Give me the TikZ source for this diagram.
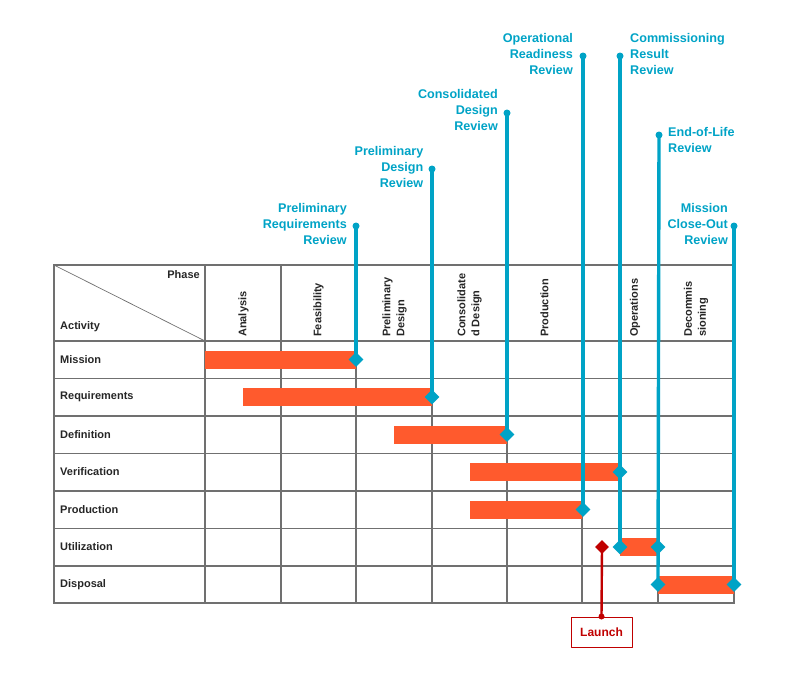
\documentclass[tikz,border=0pt]{standalone}
\usepackage{fontspec}
\setmainfont{Liberation Sans}
\usetikzlibrary{shapes.geometric}
\definecolor{barorange}{HTML}{FF5A2D}
\definecolor{revblue}{HTML}{00A3C6}
\definecolor{launchred}{HTML}{C00000}
\definecolor{gridgray}{HTML}{707070}
\begin{document}
\begin{tikzpicture}[x=1pt, y=-1pt, font=\bfseries\fontsize{11}{12}\selectfont, line join=round, line cap=round,
	grid/.style={draw=gridgray, line width=1.1pt, line cap=rect},
	bar/.style={fill=barorange},
	gate/.style={diamond, fill=revblue, minimum size=15pt, inner sep=0pt},
	dot/.style={circle, fill=revblue, minimum size=7pt, inner sep=0pt},
	stem/.style={draw=revblue, line width=3.4pt},
	review/.style={text=revblue, font=\bfseries\fontsize{12.6}{16}\selectfont, inner sep=0pt},
	rowlab/.style={anchor=west, text=black!85, inner sep=0pt},
	phaselab/.style={rotate=90, anchor=west, align=left, text=black!85, inner sep=0pt, font=\bfseries\fontsize{11}{14}\selectfont}]
	\useasboundingbox (0,0) rectangle (789,672);
	% table
	\def\xl{54}\def\xr{734}\def\yt{265}\def\yb{603}
	\foreach \x in {54,205,281,356,432,507,582,658,734} \draw[grid] (\x,\yt)--(\x,\yb);
	\foreach \y in {265,341,378.5,416,453.5,491,528.5,566,603} \draw[grid] (\xl,\y)--(\xr,\y);
	\draw[draw=gridgray, line width=0.7pt] (\xl,\yt)--(205,341);
	\node[anchor=east, text=black!85, inner sep=0pt] (phase) at (200,275) {Phase};
	\node[rowlab] (activity) at (60,327) {Activity};
	\foreach \name [count=\i] in {Mission,Requirements,Definition,Verification,Production,Utilization,Disposal}
		\node[rowlab] (row\i) at (60,{341+37.43*(\i-0.5)}) {\name};
	% phases
	\node[phaselab] (ph1) at (243.5,337) {Analysis};
	\node[phaselab] (ph2) at (318.5,337) {Feasibility};
	\node[phaselab] (ph3) at (394.5,337) {Preliminary\\Design};
	\node[phaselab] (ph4) at (469.5,337) {Consolidate\\d Design};
	\node[phaselab] (ph5) at (544.5,337) {Production};
	\node[phaselab] (ph6) at (635,337) {Operations};
	\node[phaselab] (ph7) at (696,337) {Decommis\\sioning};
	% bars
	\fill[bar] (205,350.5) rectangle (356,368.5);
	\fill[bar] (243,388) rectangle (432,406);
	\fill[bar] (394,425.5) rectangle (507,443.5);
	\fill[bar] (470,463) rectangle (620,481);
	\fill[bar] (470,500.5) rectangle (582,518.5);
	\fill[bar] (620,538) rectangle (658,556);
	\fill[bar] (658,575.5) rectangle (734,593.5);
	% gates
	\node[gate] (g1) at (356,359.5) {};
	\node[gate] (g2) at (432,397) {};
	\node[gate] (g3) at (507,434.5) {};
	\node[gate] (g4) at (620,472) {};
	\node[gate] (g5) at (583,509.5) {};
	\node[gate] (g6) at (620,547) {};
	\node[gate] (g7) at (658,547) {};
	\node[gate] (g8) at (658,584.5) {};
	\node[gate] (g9) at (734,584.5) {};
	% reviews
	\node[dot] (prr) at (356,226) {};
	\node[dot] (pdr) at (432,169) {};
	\node[dot] (cdr) at (507,113) {};
	\node[dot] (orr) at (583,56) {};
	\node[dot] (crr) at (620,56) {};
	\node[dot] (eol) at (659,135) {};
	\node[dot] (mcor) at (734,226) {};
	\node[review, anchor=east, align=right] at (347,224) {Preliminary\\Requirements\\Review};
	\node[review, anchor=east, align=right] at (423.5,167) {Preliminary\\Design\\Review};
	\node[review, anchor=east, align=right] at (498,110) {Consolidated\\Design\\Review};
	\node[review, anchor=east, align=right] at (573,54) {Operational\\Readiness\\Review};
	\node[review, anchor=west, align=left] at (630,54) {Commissioning\\Result\\Review};
	\node[review, anchor=west, align=left] at (668,140) {End-of-Life\\Review};
	\node[review, anchor=east, align=right] at (728,224) {Mission\\Close-Out\\Review};
	\draw[stem] (prr.center)--(g1.center);
	\draw[stem] (pdr.center)--(g2.center);
	\draw[stem] (cdr.center)--(g3.center);
	\draw[stem] (orr.center)--(g5.center);
	\draw[stem] (crr.center)--(g6.center);
	\draw[stem] (eol.center)--(g8.center);
	\draw[stem] (mcor.center)--(g9.center);
	% launch
	\node[diamond, fill=launchred, minimum size=14pt, inner sep=0pt] (lgate) at (602,547) {};
	\node[draw=launchred, line width=1pt, text=launchred, minimum width=61pt, minimum height=30pt, inner sep=0pt, font=\bfseries\fontsize{12}{13}\selectfont] (launch) at (601.5,632) {Launch};
	\draw[launchred, line width=2.4pt] (lgate.center)--(launch.north);
	\fill[launchred] (launch.north) circle (3pt);
\end{tikzpicture}
\end{document}
